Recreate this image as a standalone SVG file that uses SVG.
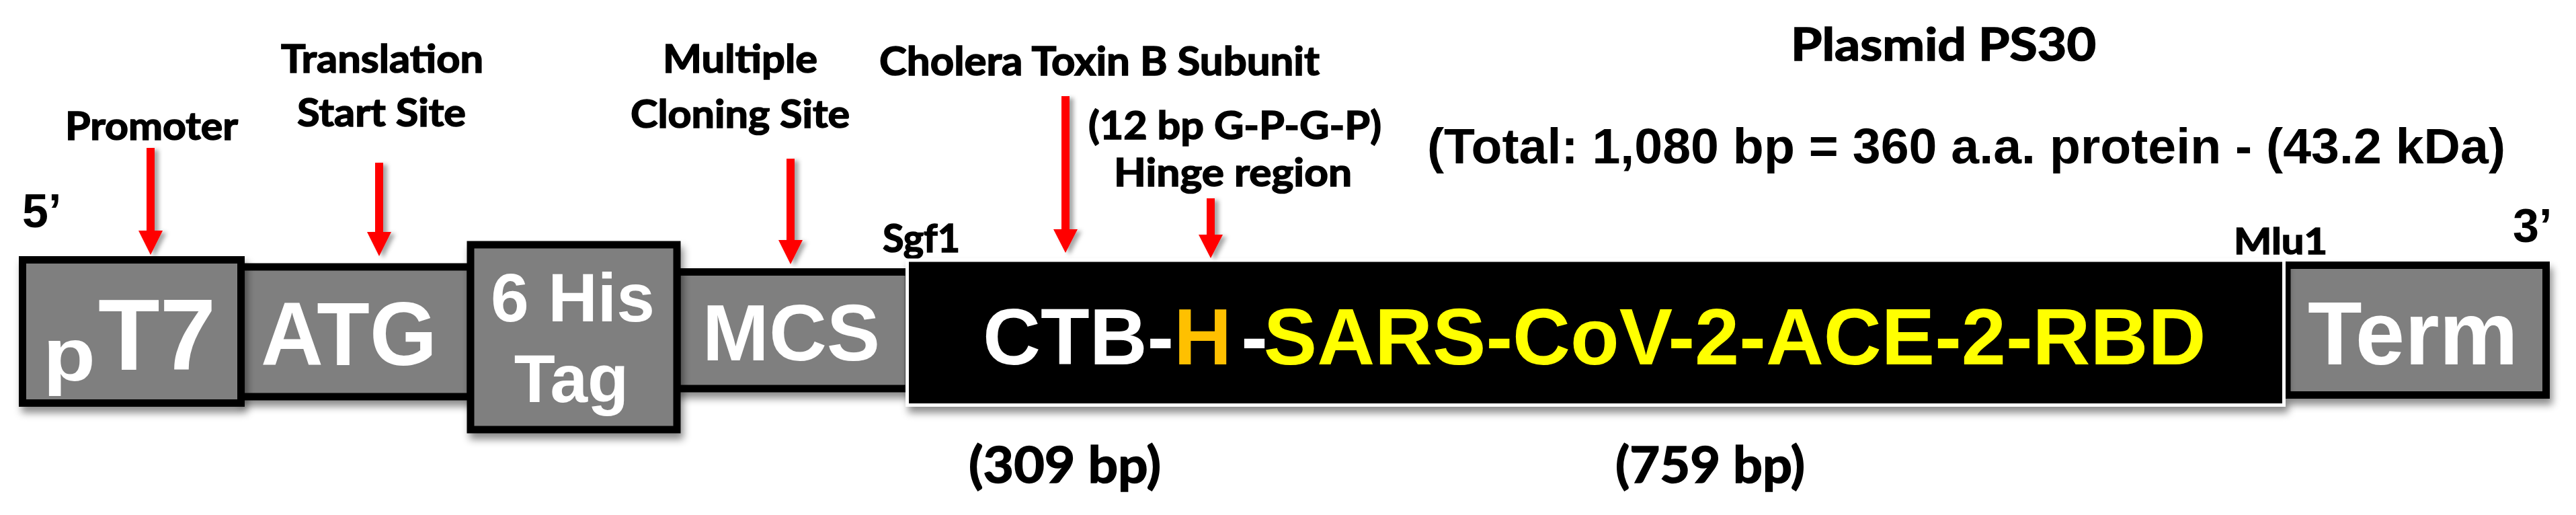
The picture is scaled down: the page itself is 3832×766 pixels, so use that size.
<svg xmlns="http://www.w3.org/2000/svg" width="3832" height="766" viewBox="0 0 3832 766">
<style>
.lbl{font-family:Lato,"Liberation Sans",sans-serif;font-weight:bold;fill:#000;stroke:#000;stroke-width:1.6}
.arl{font-family:"Liberation Sans",Arial,sans-serif;font-weight:bold}
.box{fill:#7f7f7f;stroke:#000;stroke-width:11}
.bt{font-family:"Liberation Sans",Arial,sans-serif;font-weight:bold;fill:#fff}
.arrow{fill:#ff0000;filter:url(#ash)}
</style>
<defs>
<filter id="sh" x="-10%" y="-20%" width="130%" height="150%">
<feDropShadow dx="4" dy="9" stdDeviation="6" flood-color="#000" flood-opacity="0.45"/>
</filter>
<filter id="ash" x="-50%" y="-10%" width="250%" height="130%">
<feDropShadow dx="6" dy="3" stdDeviation="3" flood-color="#000" flood-opacity="0.35"/>
</filter>
</defs>
<rect width="3832" height="766" fill="#fff"/>

<g id="labels">
<text class="lbl" x="97" y="208" font-size="58" textLength="257" lengthAdjust="spacingAndGlyphs">Promoter</text>
<text class="lbl" x="418" y="108" font-size="58" textLength="301" lengthAdjust="spacingAndGlyphs">Translation</text>
<text class="lbl" x="442" y="188" font-size="58" textLength="251" lengthAdjust="spacingAndGlyphs">Start Site</text>
<text class="lbl" x="986" y="108" font-size="58" textLength="230" lengthAdjust="spacingAndGlyphs">Multiple</text>
<text class="lbl" x="938" y="190" font-size="58" textLength="326" lengthAdjust="spacingAndGlyphs">Cloning Site</text>
<text class="lbl" x="1308" y="112" font-size="60" textLength="655" lengthAdjust="spacingAndGlyphs">Cholera Toxin B Subunit</text>
<text class="lbl" x="1619" y="207" font-size="58" textLength="436" lengthAdjust="spacingAndGlyphs">(12 bp G-P-G-P)</text>
<text class="lbl" x="1657" y="277" font-size="58" textLength="354" lengthAdjust="spacingAndGlyphs">Hinge region</text>
<text class="lbl" x="1313" y="375" font-size="58" textLength="115" lengthAdjust="spacingAndGlyphs">Sgf1</text>
<text class="lbl" x="3323" y="378" font-size="54" textLength="139" lengthAdjust="spacingAndGlyphs">Mlu1</text>
<text class="lbl" x="2664" y="90" font-size="67" textLength="454" lengthAdjust="spacingAndGlyphs">Plasmid PS30</text>
<text class="lbl" x="1441" y="718" font-size="75" textLength="286" lengthAdjust="spacingAndGlyphs">(309 bp)</text>
<text class="lbl" x="2403" y="718" font-size="75" textLength="282" lengthAdjust="spacingAndGlyphs">(759 bp)</text>
<text class="arl" x="2123" y="243" font-size="75" textLength="1604" lengthAdjust="spacingAndGlyphs">(Total: 1,080 bp = 360 a.a. protein - (43.2 kDa)</text>
<text class="arl" x="33" y="338" font-size="70">5’</text>
<text class="arl" x="3738" y="360" font-size="70">3’</text>
</g>

<g id="node-atg" filter="url(#sh)">
<rect class="box" x="358" y="397" width="342" height="193" stroke-width="10"/>
<text class="bt" x="388" y="543" font-size="134" textLength="262" lengthAdjust="spacingAndGlyphs">ATG</text>
</g>
<g id="node-mcs" filter="url(#sh)">
<rect class="box" x="1007" y="404.5" width="345" height="173.5"/>
<text class="bt" x="1177" y="536" font-size="119" text-anchor="middle">MCS</text>
</g>
<g id="node-pt7" filter="url(#sh)">
<rect x="33.5" y="386.5" width="325" height="213" fill="#7f7f7f"/>
<text class="bt" x="64" y="566" font-size="112" textLength="78" lengthAdjust="spacingAndGlyphs">p</text>
<text class="bt" x="146" y="550" font-size="150">T7</text>
<rect x="33.5" y="386.5" width="325" height="213" fill="none" stroke="#000" stroke-width="11"/>
</g>
<g id="node-his" filter="url(#sh)">
<rect class="box" x="700" y="364" width="307" height="275" stroke-width="10"/>
<text class="bt" x="852" y="478" font-size="102" text-anchor="middle">6 His</text>
<text class="bt" x="850" y="598" font-size="100" text-anchor="middle">Tag</text>
</g>
<g id="node-term" filter="url(#sh)">
<rect class="box" x="3402" y="394.5" width="385.5" height="193"/>
<text class="bt" x="3433" y="542" font-size="133" textLength="313" lengthAdjust="spacingAndGlyphs">Term</text>
</g>
<g id="node-insert" filter="url(#sh)">
<rect x="1349.5" y="387" width="2048" height="215.5" fill="#000" stroke="#fff" stroke-width="5"/>
<text class="arl" x="1462" y="542" font-size="119"><tspan fill="#fff">CTB-</tspan><tspan fill="#ffc000">H</tspan><tspan fill="#fff" dx="14">-</tspan><tspan fill="#ffff00" dx="-6">SARS-CoV-2-ACE-2-RBD</tspan></text>
</g>

<g id="connectors">
<path class="arrow" d="M218 220 H230 V343 H242 L224 379 L206 343 H218 Z"/>
<path class="arrow" d="M558 242 H570 V345 H582 L564 381 L546 345 H558 Z"/>
<path class="arrow" d="M1170 236 H1182 V357 H1194 L1176 393 L1158 357 H1170 Z"/>
<path class="arrow" d="M1579 143 H1591 V341 H1603 L1585 376 L1567 341 H1579 Z"/>
<path class="arrow" d="M1795 295 H1807 V349 H1819 L1801 384 L1783 349 H1795 Z"/>
</g>
</svg>
